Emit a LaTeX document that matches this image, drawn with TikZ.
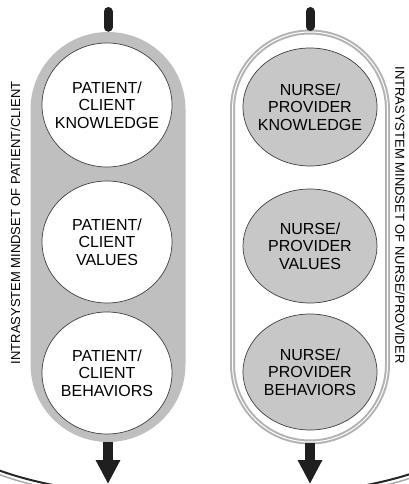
\documentclass[tikz,border=0pt]{standalone}
\usepackage{fontspec}
\setmainfont{Liberation Sans}
\usetikzlibrary{shapes.geometric,arrows.meta}

\begin{document}
\begin{tikzpicture}[x=1pt,y=-1pt,
	sphere/.style={ellipse, draw=black!75, line width=0.7pt, inner xsep=-9pt, inner ysep=0pt, align=center, font=\fontsize{16}{17.5}\selectfont},
	capsule/.style={rectangle, rounded corners=77.5pt, minimum width=155pt, minimum height=410pt, inner sep=0pt},
	stub/.style={line width=9pt, draw=black!88, line cap=round, shorten >=4.5pt},
	flow/.style={line width=10pt, draw=black!88, -{Triangle[width=23pt,length=24pt]}},
	mindset/.style={font=\fontsize{13}{13}\selectfont, inner sep=0pt},
	bowl/.style={line width=2pt, draw=black!85}]
	\useasboundingbox (0,0) rectangle (409,484);
	% the two mindsets
	\node (capL) at (108, 237)	[capsule, fill=black!25]	{};
	\node (capR) at (310, 237)	[capsule, fill=white, draw=black!30, line width=2pt, double=white, double distance=1pt]	{};
	% patient / client
	\node (PK) at (107, 105)	[sphere, fill=white, minimum width=130pt, minimum height=124pt]	{PATIENT/\\CLIENT\\KNOWLEDGE};
	\node (PV) at (107, 242)	[sphere, fill=white, minimum width=130pt, minimum height=122pt]	{PATIENT/\\CLIENT\\VALUES};
	\node (PB) at (107, 373)	[sphere, fill=white, minimum width=130pt, minimum height=122pt]	{PATIENT/\\CLIENT\\BEHAVIORS};
	% nurse / provider
	\node (NK) at (310, 107)	[sphere, fill=black!22, minimum width=134pt, minimum height=118pt]	{NURSE/\\PROVIDER\\KNOWLEDGE};
	\node (NV) at (310, 246)	[sphere, fill=black!22, minimum width=134pt, minimum height=114pt]	{NURSE/\\PROVIDER\\VALUES};
	\node (NB) at (310, 372)	[sphere, fill=black!22, minimum width=134pt, minimum height=116pt]	{NURSE/\\PROVIDER\\BEHAVIORS};
	% side labels
	\node (mindL) at (15.5, 223)	[mindset, rotate=90]	{INTRASYSTEM MINDSET OF PATIENT/CLIENT};
	\node (mindR) at (400, 215)	[mindset, rotate=-90]	{INTRASYSTEM MINDSET OF NURSE/PROVIDER};
	% in and out
	\coordinate (inL) at (108, 11.5);
	\coordinate (inR) at (310, 11.5);
	\coordinate (outL) at (108, 484);
	\coordinate (outR) at (310, 484);
	\draw[stub] (inL) -- (capL.north);
	\draw[stub] (inR) -- (capR.north);
	\draw[flow] (capL.south) -- (outL);
	\draw[flow] (capR.south) -- (outR);
	% edge of the shape below
	\begin{scope}
		\clip (0,440) rectangle (409,484);
		\draw[bowl] (210,430) ellipse [x radius=260, y radius=69];
		\draw[black!35, line width=1.4pt] (210,433.5) ellipse [x radius=260, y radius=70];
	\end{scope}
\end{tikzpicture}
\end{document}
